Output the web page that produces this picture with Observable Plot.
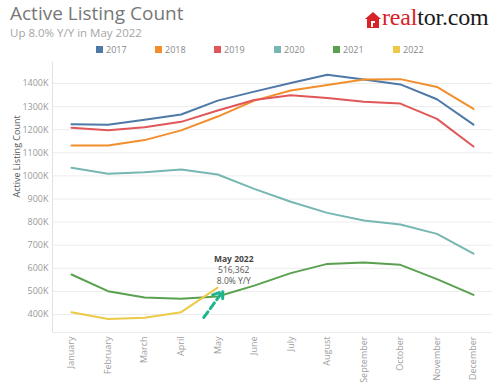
<!DOCTYPE html>
<html>
<head>
<meta charset="utf-8">
<script src="https://cdn.jsdelivr.net/npm/d3@7"></script>
<script src="https://cdn.jsdelivr.net/npm/@observablehq/plot@0.6"></script>
<style>
  body { margin: 0; background: #fff; font-family: "Open Sans", sans-serif; }
  #wrap { position: relative; width: 500px; height: 388px; overflow: hidden; }
  #chart { position: absolute; left: 0; top: 0; }
  .title { position: absolute; left: 10px; top: 1px; font-size: 19px; line-height: 24px; color: #777; white-space: nowrap; }
  .subtitle { position: absolute; left: 10px; top: 25px; font-size: 11.5px; line-height: 15px; color: #a5a5a5; white-space: nowrap; }
  .logo { position: absolute; left: 365px; top: 8px; height: 24px; white-space: nowrap; }
  .logo svg { position: absolute; left: 0; top: 4px; }
  .logo span.t { position: absolute; left: 17px; top: -4px; font-family: "Liberation Serif", "DejaVu Serif", serif; font-size: 24px; letter-spacing: -0.2px; }
  .legend { position: absolute; top: 44px; left: 0; height: 14px; }
  .legend .item { position: absolute; top: 0; font-size: 9px; color: #888; white-space: nowrap; line-height: 12px; }
  .legend .sw { display: inline-block; width: 7px; height: 7px; margin-right: 3px; vertical-align: -0px; }
</style>
</head>
<body>
<div id="wrap">
  <div class="title">Active Listing Count</div>
  <div class="subtitle">Up 8.0% Y/Y in May 2022</div>
  <div class="logo">
    <svg width="16" height="16" viewBox="0 0 16 16">
      <path d="M8 0 L16 7 L14 7 L14 16 L2 16 L2 7 L0 7 Z" fill="#d92228"/>
      <path d="M6 9 L6 15 L8 15 L8 11 L10 11 L10 9 Z" fill="#fff"/>
    </svg>
    <span class="t"><span style="color:#d92228">real</span><span style="color:#1a1a1a">tor.com</span></span>
  </div>
  <div class="legend" id="legend"></div>
  <div id="chart"></div>
</div>
<script>
const months = ["January","February","March","April","May","June","July","August","September","October","November","December"];
const years = ["2017","2018","2019","2020","2021","2022"];
const colors = ["#4e79a7","#f28e2b","#e15759","#76b7b2","#59a14f","#edc948"];

// Active listing counts, thousands
const y2017 = [1224,1221,1243,1266,1326,1365,1402,1438,1417,1396,1332,1222];
const y2018 = [1132,1132,1155,1197,1257,1326,1370,1394,1417,1419,1385,1290];
const y2019 = [1208,1198,1211,1234,1283,1329,1349,1337,1321,1313,1247,1127];
const y2020 = [1035,1009,1016,1028,1006,944,888,840,807,790,749,663];
const y2021 = [573,501,474,468,478,525,579,619,625,615,553,485];
const y2022 = [410,380,386,410,516.362];

const yTicks = [400,500,600,700,800,900,1000,1100,1200,1300,1400];

// annotation
const noteLines = ["May 2022", "516,362", "8.0% Y/Y"];
const noteAt = {x: 4.44, y: 640};
const arrowData = [{x1: 3.62, y1: 387, x2: 4.14, y2: 500}];

const series = [y2017, y2018, y2019, y2020, y2021, y2022];
const rows = [];
series.forEach((vals, k) => vals.forEach((v, i) => rows.push({year: years[k], m: i, v})));

// legend
const legendX = [96, 155, 214, 274, 333, 393];
const lg = document.getElementById("legend");
years.forEach((yr, i) => {
  const d = document.createElement("div");
  d.className = "item";
  d.style.left = legendX[i] + "px";
  d.innerHTML = `<span class="sw" style="background:${colors[i]}"></span>${yr}`;
  lg.appendChild(d);
});

const yDomain = [322, 1491];
const xDomain = [-0.52, 11.52];

const chart = Plot.plot({
  width: 500,
  height: 388,
  marginTop: 62,
  marginBottom: 56,
  marginLeft: 52,
  marginRight: 8,
  style: {fontFamily: "Open Sans, sans-serif", background: "transparent"},
  x: {domain: xDomain},
  y: {domain: yDomain},
  color: {domain: years, range: colors},
  marks: [
    Plot.gridY(yTicks, {stroke: "#ececec", strokeOpacity: 1}),
    Plot.ruleX([xDomain[0]], {stroke: "#e2e2e2"}),
    Plot.ruleY([yDomain[0]], {stroke: "#ececec"}),
    Plot.axisY({ticks: yTicks, tickFormat: d => d + "K", tickSize: 0, tickPadding: 4, fontSize: 9, color: "#999", label: null}),
    Plot.axisX({ticks: d3.range(12), tickFormat: i => months[i], tickRotate: -90, tickSize: 0, tickPadding: 4, fontSize: 9, color: "#a0a0a0", label: null}),
    Plot.text(["Active Listing Count"], {frameAnchor: "left", dx: -35, rotate: -90, fontSize: 9, fill: "#555"}),
    Plot.line(rows, {x: "m", y: "v", z: "year", stroke: "year", strokeWidth: 2, curve: "linear"}),
    Plot.arrow(arrowData, {x1: "x1", y1: "y1", x2: "x2", y2: "y2", stroke: "#1db48e", strokeWidth: 3, strokeDasharray: "7,4", headLength: 10, headAngle: 70, bend: 0}),
    Plot.text(noteLines.slice(0, 1), {x: () => noteAt.x, y: () => noteAt.y, text: d => d, fontSize: 8.5, fontWeight: "bold", fill: "#444"}),
    Plot.text(noteLines.slice(1, 2), {x: () => noteAt.x, y: () => noteAt.y, text: d => d, dy: 11, fontSize: 8.5, fill: "#555"}),
    Plot.text(noteLines.slice(2, 3), {x: () => noteAt.x, y: () => noteAt.y, text: d => d, dy: 22, fontSize: 8.5, fill: "#555"})
  ]
});
document.getElementById("chart").appendChild(chart);
</script>
</body>
</html>
